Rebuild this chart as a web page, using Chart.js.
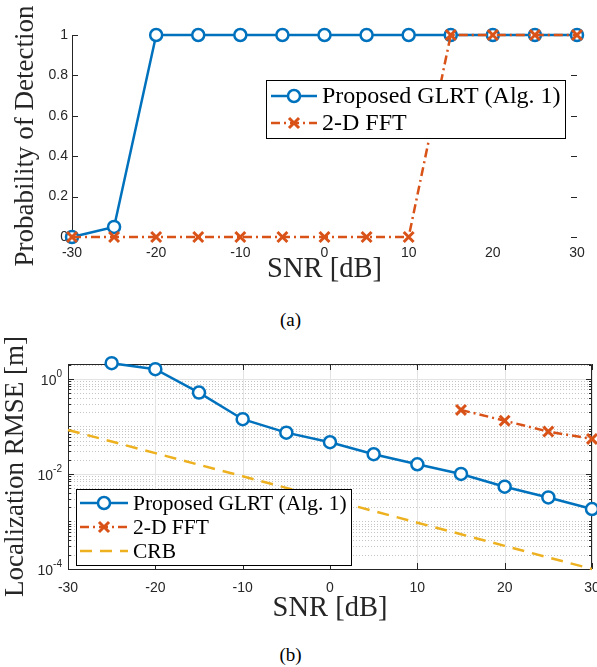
<!DOCTYPE html>
<html>
<head>
<meta charset="utf-8">
<script src="https://cdn.jsdelivr.net/npm/chart.js@4.4.1/dist/chart.umd.min.js"></script>
<style>
  body { margin: 0; background: #fff; width: 597px; height: 667px; position: relative; overflow: hidden; }
  canvas { position: absolute; left: 0; }
  #chartA { top: 0; }
  #chartB { top: 330px; }
  .caption { position: absolute; width: 597px; text-align: center; font-family: 'Liberation Serif', serif; font-size: 19px; line-height: 19px; color: #000; }
</style>
</head>
<body>
<canvas id="chartA" width="597" height="300"></canvas>
<div class="caption" style="left:-8px; top:310px;">(a)</div>
<canvas id="chartB" width="602" height="300"></canvas>
<div class="caption" style="left:-8px; top:645px;">(b)</div>
<script>
// ---- data ----
const snr = [-30, -25, -20, -15, -10, -5, 0, 5, 10, 15, 20, 25, 30];
const pdGlrt = [0, 0.05, 1, 1, 1, 1, 1, 1, 1, 1, 1, 1, 1];
const pdFft = [0, 0, 0, 0, 0, 0, 0, 0, 0, 1, 1, 1, 1];

const rmseSnrGlrt = [-25, -20, -15, -10, -5, 0, 5, 10, 15, 20, 25, 30];
const rmseGlrt = [2.14, 1.6, 0.515, 0.142, 0.074, 0.0465, 0.026, 0.016, 0.0100, 0.0054, 0.0032, 0.00183];
const rmseSnrFft = [15, 20, 25, 30];
const rmseFft = [0.222, 0.132, 0.078, 0.0546];
const rmseCrb = [0.0843, 0.0481, 0.0274, 0.0156, 0.00893, 0.00509, 0.00290, 0.00166, 0.000944, 0.000538, 0.000307, 0.000175, 0.0001];

const xTicks = [-30, -20, -10, 0, 10, 20, 30];
const pdTicks = [0, 0.2, 0.4, 0.6, 0.8, 1];
const rmseTicks = [1e-4, 1e-2, 1];

const labels = ['Proposed GLRT (Alg. 1)', '2-D FFT', 'CRB'];

const BLUE = '#0072BD', RED = '#D95319', YELLOW = '#EDB120', AXIS = '#262626';
const SERIF = "'Liberation Serif', 'Times New Roman', serif";
const SANS = "'Liberation Sans', Arial, sans-serif";

function pts(xs, ys) {
    return xs.map((x, i) => ({ x: x, y: ys[i] }));
}

// legend drawn as a boxed block inside the plot area, MATLAB style
const boxLegend = {
    id: 'boxLegend',
    afterDraw(chart, args, o) {
        const ctx = chart.ctx, a = chart.chartArea;
        const x0 = Math.round(a.left + o.left), y0 = Math.round(a.top + o.top);
        ctx.save();
        ctx.fillStyle = '#fff';
        ctx.fillRect(x0, y0, o.width, o.height);
        ctx.strokeStyle = '#000';
        ctx.lineWidth = 1;
        ctx.strokeRect(x0 + 0.5, y0 + 0.5, o.width, o.height);
        chart.data.datasets.forEach((ds, i) => {
            const cy = y0 + o.firstRow + i * o.rowGap;
            const lx0 = x0 + o.lineStart, lx1 = lx0 + o.lineLen, mx = (lx0 + lx1) / 2;
            ctx.strokeStyle = ds.borderColor;
            ctx.lineWidth = ds.borderWidth;
            ctx.setLineDash(ds.borderDash || []);
            ctx.beginPath();
            ctx.moveTo(lx0, cy);
            ctx.lineTo(lx1, cy);
            ctx.stroke();
            ctx.setLineDash([]);
            if (ds.pointStyle === 'circle' && ds.pointRadius > 0) {
                ctx.fillStyle = '#fff';
                ctx.lineWidth = ds.pointBorderWidth;
                ctx.beginPath();
                ctx.arc(mx, cy, ds.pointRadius, 0, Math.PI * 2);
                ctx.fill();
                ctx.stroke();
            } else if (ds.pointStyle === 'crossRot' && ds.pointRadius > 0) {
                const r = ds.pointRadius * 0.72;
                ctx.lineWidth = ds.pointBorderWidth;
                ctx.beginPath();
                ctx.moveTo(mx - r, cy - r); ctx.lineTo(mx + r, cy + r);
                ctx.moveTo(mx - r, cy + r); ctx.lineTo(mx + r, cy - r);
                ctx.stroke();
            }
            ctx.fillStyle = '#000';
            ctx.font = o.fontSize + 'px ' + SERIF;
            ctx.textBaseline = 'middle';
            ctx.textAlign = 'left';
            ctx.fillText(labels[i], x0 + o.textStart, cy + 1);
        });
        ctx.restore();
    }
};

// axis lines and inward ticks for the detection plot
const axesA = {
    id: 'axesA',
    beforeDatasetsDraw(chart) {
        const ctx = chart.ctx, a = chart.chartArea, ys = chart.scales.y;
        ctx.save();
        ctx.strokeStyle = AXIS;
        ctx.lineWidth = 1;
        ctx.beginPath();
        ctx.moveTo(a.left + 0.5, a.top);
        ctx.lineTo(a.left + 0.5, a.bottom);
        pdTicks.forEach(v => {
            const py = Math.round(ys.getPixelForValue(v)) + 0.5;
            ctx.moveTo(a.left, py); ctx.lineTo(a.left + 6, py);
            ctx.moveTo(a.right - 6, py); ctx.lineTo(a.right, py);
        });
        ctx.stroke();
        ctx.restore();
    }
};

// box, grid (major + dotted minor), inward ticks and 10^k labels for the RMSE plot
const axesB = {
    id: 'axesB',
    beforeDatasetsDraw(chart) {
        const ctx = chart.ctx, a = chart.chartArea, xs = chart.scales.x, ys = chart.scales.y;
        ctx.save();
        ctx.lineWidth = 1;
        // minor grid
        const minors = [];
        for (let k = -4; k <= 0; k++) {
            for (let m = 1; m <= 9; m++) {
                const v = m * Math.pow(10, k);
                if (v <= ys.max && !rmseTicks.includes(v)) minors.push(v);
            }
        }
        ctx.strokeStyle = '#c4c4c4';
        ctx.setLineDash([1, 2]);
        ctx.beginPath();
        minors.forEach(v => {
            const py = Math.round(ys.getPixelForValue(v)) + 0.5;
            ctx.moveTo(a.left, py); ctx.lineTo(a.right, py);
        });
        ctx.stroke();
        ctx.setLineDash([]);
        // major grid
        ctx.strokeStyle = '#e3e3e3';
        ctx.beginPath();
        rmseTicks.forEach(v => {
            const py = Math.round(ys.getPixelForValue(v)) + 0.5;
            ctx.moveTo(a.left, py); ctx.lineTo(a.right, py);
        });
        xTicks.forEach(v => {
            const px = Math.round(xs.getPixelForValue(v)) + 0.5;
            ctx.moveTo(px, a.top); ctx.lineTo(px, a.bottom);
        });
        ctx.stroke();
        // box and ticks
        ctx.strokeStyle = AXIS;
        ctx.beginPath();
        ctx.rect(Math.round(a.left) + 0.5, Math.round(a.top) + 0.5, Math.round(a.right - a.left) - 1, Math.round(a.bottom - a.top));
        rmseTicks.forEach(v => {
            const py = Math.round(ys.getPixelForValue(v)) + 0.5;
            ctx.moveTo(a.left, py); ctx.lineTo(a.left + 6, py);
            ctx.moveTo(a.right - 6, py); ctx.lineTo(a.right, py);
        });
        minors.forEach(v => {
            const py = Math.round(ys.getPixelForValue(v)) + 0.5;
            ctx.moveTo(a.left, py); ctx.lineTo(a.left + 3, py);
            ctx.moveTo(a.right - 3, py); ctx.lineTo(a.right, py);
        });
        xTicks.forEach(v => {
            const px = Math.round(xs.getPixelForValue(v)) + 0.5;
            ctx.moveTo(px, a.top); ctx.lineTo(px, a.top + 6);
            ctx.moveTo(px, a.bottom); ctx.lineTo(px, a.bottom - 6);
        });
        ctx.stroke();
        // tick labels 10^k
        ctx.fillStyle = AXIS;
        ctx.textAlign = 'right';
        ctx.textBaseline = 'middle';
        rmseTicks.forEach(v => {
            const py = ys.getPixelForValue(v);
            const exp = String(Math.round(Math.log10(v)));
            ctx.font = '10px ' + SANS;
            const w = ctx.measureText(exp).width;
            const rx = a.left - 6;
            ctx.fillText(exp, rx, py - 5);
            ctx.font = '14px ' + SANS;
            ctx.fillText('10', rx - w, py + 2);
        });
        ctx.restore();
    }
};

const commonLine = { tension: 0, clip: false, fill: false };

// ---- (a) probability of detection ----
new Chart(document.getElementById('chartA'), {
    type: 'line',
    data: {
        datasets: [
            Object.assign({
                data: pts(snr, pdGlrt), borderColor: BLUE, borderWidth: 2.5,
                pointStyle: 'circle', pointRadius: 6, pointBorderWidth: 2.5,
                pointBackgroundColor: '#fff', pointBorderColor: BLUE, order: 2
            }, commonLine),
            Object.assign({
                data: pts(snr, pdFft), borderColor: RED, borderWidth: 2.5, borderDash: [9, 4, 2, 4],
                pointStyle: 'crossRot', pointRadius: 7, pointBorderWidth: 3,
                pointBorderColor: RED, pointBackgroundColor: RED, order: 1
            }, commonLine)
        ]
    },
    options: {
        responsive: false,
        animation: false,
        devicePixelRatio: 1,
        layout: { padding: { top: 35, right: 20, left: 0, bottom: 0 } },
        plugins: {
            legend: { display: false },
            tooltip: { enabled: false },
            boxLegend: { left: 194, top: 45, width: 299, height: 58, lineStart: 5, lineLen: 46, textStart: 56, firstRow: 16, rowGap: 27, fontSize: 24 }
        },
        scales: {
            x: {
                type: 'linear', min: -30, max: 30,
                afterBuildTicks: s => { s.ticks = xTicks.map(v => ({ value: v })); },
                afterFit: s => { s.height = 63; },
                grid: { display: false, drawTicks: false },
                border: { display: false },
                ticks: { color: AXIS, padding: 8, font: { family: SANS, size: 14 } },
                title: { display: true, text: 'SNR [dB]', color: AXIS, padding: { top: 0, bottom: 13 }, font: { family: SERIF, size: 28.5 } }
            },
            y: {
                type: 'linear', min: 0, max: 1,
                afterBuildTicks: s => { s.ticks = pdTicks.map(v => ({ value: v })); },
                afterFit: s => { s.width = 72; },
                grid: { display: false, drawTicks: false },
                border: { display: false },
                ticks: { color: AXIS, padding: 4, font: { family: SANS, size: 14 }, callback: v => String(v) },
                title: { display: true, text: 'Probability of Detection', color: AXIS, padding: { top: 10, bottom: 0 }, font: { family: SERIF, size: 27 } }
            }
        }
    },
    plugins: [axesA, boxLegend]
});

// ---- (b) localization RMSE ----
new Chart(document.getElementById('chartB'), {
    type: 'line',
    data: {
        datasets: [
            Object.assign({
                data: pts(rmseSnrGlrt, rmseGlrt), borderColor: BLUE, borderWidth: 2.5,
                pointStyle: 'circle', pointRadius: 6, pointBorderWidth: 2.5,
                pointBackgroundColor: '#fff', pointBorderColor: BLUE, order: 1
            }, commonLine),
            Object.assign({
                data: pts(rmseSnrFft, rmseFft), borderColor: RED, borderWidth: 2.5, borderDash: [9, 4, 2, 4],
                pointStyle: 'crossRot', pointRadius: 7, pointBorderWidth: 3,
                pointBorderColor: RED, pointBackgroundColor: RED, order: 2
            }, commonLine),
            Object.assign({
                data: pts(snr, rmseCrb), borderColor: YELLOW, borderWidth: 2.5, borderDash: [12, 8],
                pointRadius: 0, order: 3
            }, commonLine)
        ]
    },
    options: {
        responsive: false,
        animation: false,
        devicePixelRatio: 1,
        layout: { padding: { top: 34, right: 0, left: 0, bottom: 0 } },
        plugins: {
            legend: { display: false },
            tooltip: { enabled: false },
            boxLegend: { left: 8, top: 125, width: 275, height: 76, lineStart: 4, lineLen: 48, textStart: 57, firstRow: 14, rowGap: 24, fontSize: 21.5 }
        },
        scales: {
            x: {
                type: 'linear', min: -30, max: 30,
                afterBuildTicks: s => { s.ticks = xTicks.map(v => ({ value: v })); },
                afterFit: s => { s.height = 61; s.paddingLeft = 0; s.paddingRight = 0; },
                grid: { display: false, drawTicks: false },
                border: { display: false },
                ticks: { color: AXIS, padding: 11, font: { family: SANS, size: 14 } },
                title: { display: true, text: 'SNR [dB]', color: AXIS, padding: { top: 0, bottom: 4 }, font: { family: SERIF, size: 28.5 } }
            },
            y: {
                type: 'logarithmic', min: 1e-4, max: 2.06,
                afterBuildTicks: s => { s.ticks = rmseTicks.map(v => ({ value: v })); },
                afterFit: s => { s.width = 68; s.paddingTop = 0; s.paddingBottom = 0; },
                grid: { display: false, drawTicks: false },
                border: { display: false },
                ticks: { display: false },
                title: { display: true, text: 'Localization RMSE [m]', color: AXIS, padding: { top: 0, bottom: 0 }, font: { family: SERIF, size: 27 } }
            }
        }
    },
    plugins: [axesB, boxLegend]
});
</script>
</body>
</html>
